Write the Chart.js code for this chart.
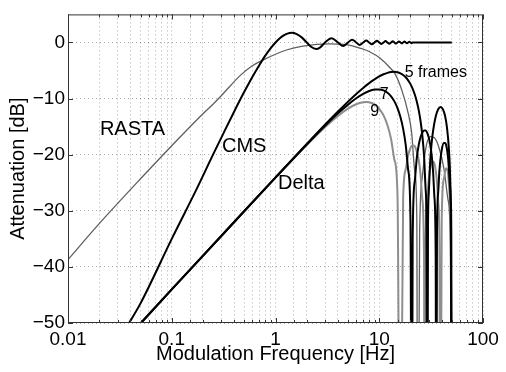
<!DOCTYPE html>
<html>
<head>
<meta charset="utf-8">
<script src="https://cdn.jsdelivr.net/npm/chart.js@4/dist/chart.umd.min.js"></script>
<style>
  html, body { margin: 0; padding: 0; background: #fff; }
  canvas { display: block; }
</style>
</head>
<body>
<canvas id="chart" width="506" height="372"></canvas>
<script>
// Modülasyon frekansı [Hz] ve zayıflama [dB] değerleri
const rastaFreq = [0.01, 0.02, 0.05, 0.1, 0.2, 0.25, 0.3, 0.364, 0.45, 0.593, 0.763, 1.0, 1.3, 1.73, 2.5, 3.35, 4.5, 5.5, 6.5, 8.15, 10.2, 12.7, 14.2, 16.5, 19, 20.5, 22, 23, 23.5, 24.5, 26, 28, 31, 34, 38, 42, 46, 48.5, 50];
const rastaDb = [-38.7, -32.3, -24.3, -18.4, -12.7, -11.0, -9.5, -7.8, -6.0, -4.2, -3.1, -2.1, -1.3, -0.75, -0.35, -0.25, -0.35, -0.6, -1.0, -1.7, -2.8, -4.5, -5.6, -8.5, -12.6, -16, -23, -31, -90, -34, -24, -19, -16.8, -17, -19, -22.5, -28, -36, -90];

const cmsFreq = [0.036, 0.05, 0.1, 0.174, 0.25, 0.3, 0.4, 0.5, 0.6, 0.7, 0.8, 0.9, 1.0, 1.1, 1.2, 1.3, 1.43, 1.6, 1.8, 2.0, 2.2, 2.46, 2.7, 3.0, 3.47, 4.0, 4.48, 5.0, 5.48, 6.0, 6.49, 7.0, 7.49, 8.0, 8.49, 9.0, 9.5, 10, 10.5, 11, 11.5, 12, 12.5, 13, 13.5, 14, 14.5, 15, 15.5, 16, 16.5, 17, 17.5, 18, 18.5, 19, 19.5, 20, 20.5, 21, 50];
const cmsDb = [-51, -46.5, -35, -26.1, -20.0, -17.0, -12.3, -8.8, -6.1, -4.0, -2.3, -1.0, 0, 0.74, 1.26, 1.57, 1.71, 1.5, 0.86, 0, -0.77, -1.18, -0.87, 0, 0.76, 0, -0.64, 0, 0.49, 0, -0.44, 0, 0.36, 0, -0.33, 0, 0.29, 0, -0.27, 0, 0.24, 0, -0.22, 0, 0.2, 0, -0.19, 0, 0.18, 0, -0.17, 0, 0.16, 0, -0.15, 0, 0.14, 0, -0.13, 0, 0];

const delta5Freq = [0.045, 0.1, 0.3, 1, 2, 3, 4, 5, 6, 7, 8, 9, 10, 11, 12, 13, 14, 15, 16, 17, 18, 19, 20, 21, 22, 23, 24, 25, 26, 27, 28, 28.5, 29.02, 29.5, 30, 31, 32, 33, 35, 37, 39, 41, 43, 45, 47, 48, 49, 49.5, 50];
const delta5Db = [-51.0, -44.0, -34.5, -24.05, -18.1, -14.67, -12.31, -10.55, -9.18, -8.1, -7.25, -6.58, -6.05, -5.67, -5.42, -5.27, -5.24, -5.32, -5.5, -5.8, -6.21, -6.75, -7.43, -8.26, -9.28, -10.52, -12.05, -14.0, -16.5, -20.1, -26.2, -32.1, -90, -33.1, -26.95, -21.1, -17.9, -15.8, -13.2, -11.9, -11.5, -11.88, -13.03, -15.22, -19.19, -22.6, -28.5, -34.5, -90];

const delta7Freq = [0.045, 0.1, 0.3, 1, 2, 3, 4, 5, 6, 7, 8, 9, 10, 11, 12, 13, 14, 15, 16, 17, 18, 19, 20, 20.6, 21, 22, 23, 24, 25, 26, 27, 28, 29, 30, 31, 32, 33, 34, 35, 35.4, 36, 37, 38, 40, 42, 43, 44, 46, 48, 49, 50];
const delta7Db = [-51.0, -44.0, -34.5, -24.08, -18.18, -14.86, -12.64, -11.08, -9.95, -9.17, -8.66, -8.4, -8.37, -8.55, -8.96, -9.6, -10.5, -11.7, -13.3, -15.4, -18.3, -22.7, -31.7, -90, -34.8, -24.7, -20.6, -18.3, -16.9, -16.1, -15.7, -15.7, -16.1, -16.95, -18.2, -20.1, -22.9, -27.5, -38.5, -90, -34.9, -26.7, -22.9, -19.2, -17.9, -17.9, -18.2, -20.4, -25.6, -31.5, -90];

const delta9Freq = [0.045, 0.1, 0.3, 1, 2, 3, 4, 5, 6, 7, 7.5, 8, 9, 10, 11, 12, 13, 14, 15, 15.9, 17, 18, 19, 20, 21, 22, 23, 24, 25, 26, 27, 27.4, 28, 29, 30, 31, 32, 33, 34, 35, 36, 37, 38, 38.8, 40, 42, 44, 46, 48, 49, 50];
const delta9Db = [-51.0, -44.0, -34.5, -24.1, -18.29, -15.11, -13.09, -11.8, -11.01, -10.65, -10.61, -10.67, -11.05, -11.82, -13.0, -14.75, -17.2, -20.9, -27.3, -90, -27.6, -22.6, -20.1, -18.8, -18.3, -18.5, -19.4, -20.9, -23.5, -27.9, -38.2, -90, -36.5, -28.0, -24.4, -22.4, -21.4, -21.2, -21.6, -22.8, -24.8, -28.4, -35.6, -90, -31.4, -24.3, -22.4, -23.4, -28.0, -33.7, -90];

const xTickLabels = ['0.01', '0.1', '1', '10', '100'];

const FONT = "'Liberation Sans', Arial, Helvetica, sans-serif";

function toPoints(freqs, values) {
  return freqs.map((f, i) => ({ x: f, y: values[i] }));
}

function isDecade(v) {
  const l = Math.log10(v);
  return Math.abs(l - Math.round(l)) < 1e-6;
}

function series(label, freqs, values, color, width) {
  return {
    label: label,
    data: toPoints(freqs, values),
    borderColor: color,
    backgroundColor: color,
    borderWidth: width,
    pointRadius: 0,
    fill: false,
    cubicInterpolationMode: 'monotone',
    clip: 0
  };
}

// Eğri üzerindeki yazılar (veri koordinatlarında, sol-alt taban çizgisi)
const notes = [
  { text: 'RASTA', f: 0.0203, db: -16.5, size: 20 },
  { text: 'CMS', f: 0.305, db: -19.5, size: 20 },
  { text: 'Delta', f: 1.057, db: -26.1, size: 20 },
  { text: '5 frames', f: 17.6, db: -6.2, size: 16 },
  { text: '7', f: 10.1, db: -10.0, size: 16 },
  { text: '9', f: 8.2, db: -13.1, size: 16 }
];

const notesPlugin = {
  id: 'notes',
  afterDatasetsDraw(chart) {
    const { ctx, scales: { x, y } } = chart;
    ctx.save();
    ctx.fillStyle = '#000';
    ctx.textAlign = 'left';
    ctx.textBaseline = 'alphabetic';
    notes.forEach(n => {
      ctx.font = n.size + 'px ' + FONT;
      ctx.fillText(n.text, x.getPixelForValue(n.f), y.getPixelForValue(n.db));
    });
    ctx.restore();
  }
};

// MATLAB tarzı çerçeve ve içe dönük tik işaretleri
const framePlugin = {
  id: 'frame',
  afterDraw(chart) {
    const { ctx, chartArea: { left, right, top, bottom }, scales: { x, y } } = chart;
    ctx.save();
    ctx.strokeStyle = '#333';
    ctx.lineWidth = 1;
    ctx.beginPath();
    x.ticks.forEach(t => {
      const px = Math.round(x.getPixelForValue(t.value)) + 0.5;
      const len = isDecade(t.value) ? 5 : 3;
      ctx.moveTo(px, bottom); ctx.lineTo(px, bottom - len);
      ctx.moveTo(px, top); ctx.lineTo(px, top + len);
    });
    y.ticks.forEach(t => {
      const py = Math.round(y.getPixelForValue(t.value)) + 0.5;
      ctx.moveTo(left, py); ctx.lineTo(left + 5, py);
      ctx.moveTo(right, py); ctx.lineTo(right - 5, py);
    });
    ctx.stroke();
    ctx.strokeRect(left + 0.5, top + 0.5, right - left - 1, bottom - top - 1);
    ctx.restore();
  }
};

new Chart(document.getElementById('chart'), {
  type: 'line',
  data: {
    // İlk veri kümesi en üstte çizilir: siyah eğriler öne
    datasets: [
      series('Delta 5', delta5Freq, delta5Db, '#000', 2),
      series('Delta 7', delta7Freq, delta7Db, '#000', 2),
      series('CMS', cmsFreq, cmsDb, '#000', 2),
      series('Delta 9', delta9Freq, delta9Db, '#8e8e8e', 2),
      series('RASTA', rastaFreq, rastaDb, '#5f5f5f', 1.3)
    ]
  },
  options: {
    responsive: false,
    animation: false,
    devicePixelRatio: 1,
    layout: { padding: { top: 5, right: 23, bottom: 0, left: 0 } },
    plugins: {
      legend: { display: false },
      tooltip: { enabled: false }
    },
    scales: {
      x: {
        type: 'logarithmic',
        min: 0.01,
        max: 100,
        grid: { color: 'rgba(0,0,0,0.32)', lineWidth: 1, drawTicks: false },
        border: { display: false, dash: [1, 3] },
        ticks: {
          autoSkip: false,
          maxRotation: 0,
          padding: 5,
          color: '#000',
          font: { family: FONT, size: 19 },
          callback: function(value) {
            if (!isDecade(value)) return '';
            const idx = Math.round(Math.log10(value)) + 2;
            return xTickLabels[idx];
          }
        },
        title: {
          display: true,
          text: 'Modulation Frequency [Hz]',
          color: '#000',
          font: { family: FONT, size: 20 },
          padding: { top: 0, bottom: 6 }
        },
        afterFit: (scale) => { scale.height = 49; }
      },
      y: {
        min: -50,
        max: 5,
        grid: { color: 'rgba(0,0,0,0.32)', lineWidth: 1, drawTicks: false },
        border: { display: false, dash: [1, 3] },
        ticks: {
          stepSize: 10,
          padding: 3,
          color: '#000',
          font: { family: FONT, size: 19 },
          callback: function(value) {
            return value < 0 ? '\u2212' + Math.abs(value) : String(value);
          }
        },
        afterBuildTicks: (scale) => {
          scale.ticks = scale.ticks.filter(t => t.value <= 0);
        },
        title: {
          display: true,
          text: 'Attenuation [dB]',
          color: '#000',
          font: { family: FONT, size: 20 },
          padding: { top: 6, bottom: 0 }
        },
        afterFit: (scale) => { scale.width = 68; }
      }
    }
  },
  plugins: [notesPlugin, framePlugin]
});
</script>
</body>
</html>
